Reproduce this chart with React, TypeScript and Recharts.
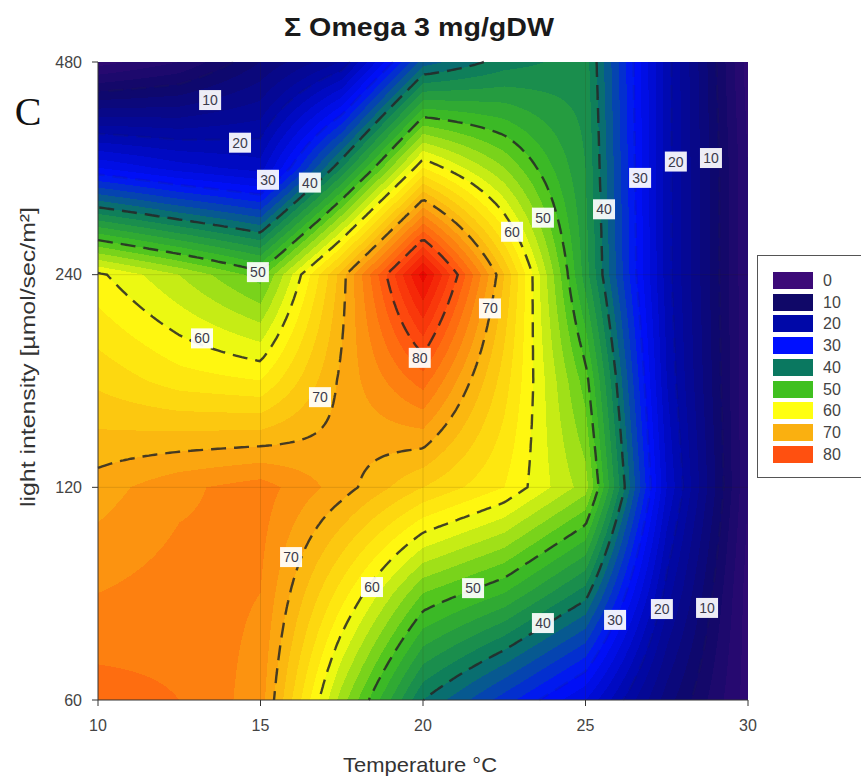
import { useMemo } from 'react';
import { ScatterChart, Scatter, XAxis, YAxis, ReferenceArea, ReferenceLine } from 'recharts';

document.body.style.margin = '0';

const FONT = '"Liberation Sans", Arial, Helvetica, sans-serif';

// measurement grid: temperature (°C) x light intensity (µmol/sec/m²)
const temperatures = [10, 12.5, 15, 17.5, 20, 22.5, 25, 27.5, 30];
const lightLevels = [60, 85, 120, 170, 240, 340, 480];

// Σ omega-3 content (mg/gDW), one row per light level, one value per temperature
const omega60 = [77, 76, 73, 55, 40, 33, 26, 13, 3];
const omega85 = [74, 75, 74, 63, 52, 48, 41, 19, 3];
const omega120 = [71, 73.5, 75, 71, 66, 62, 55, 24, 4];
const omega170 = [65.5, 63, 62, 70.5, 77, 65, 51, 22, 4];
const omega240 = [60.5, 56, 51, 69, 89, 68, 45, 21, 4];
const omega340 = [28, 25, 23, 42, 62, 54, 44, 21, 4];
const omega480 = [3, 6, 12, 18, 37, 41, 43, 21, 3];
const omegaRows = [omega60, omega85, omega120, omega170, omega240, omega340, omega480];

const contourLevels = [10, 20, 30, 40, 50, 60, 70, 80];
const legendLevels = [0, 10, 20, 30, 40, 50, 60, 70, 80];
const legendColors = ['#3c0a78', '#100868', '#0008a8', '#0010ff', '#0a7860', '#40c020', '#ffff10', '#fab010', '#ff5010'];
const peakLevel = 90;
const peakColor = '#eb0000';

const tempTicks = [10, 15, 20, 25, 30];
const lightTicks = [60, 120, 240, 480];

// inline contour labels
const labelTemp = [13.45, 14.37, 15.23, 16.52, 14.92, 13.2, 16.83, 19.9, 22.06, 22.74, 23.69, 25.57, 26.68, 27.78, 28.86, 15.94, 18.43, 21.54, 23.69, 25.91, 27.35, 28.74];
const labelLight = [424, 369, 327, 324, 242, 195, 161, 183, 215, 276, 289, 297, 329, 347, 351, 95.6, 86.7, 86.4, 77.1, 77.9, 80.7, 81];
const labelLevel = [10, 20, 30, 40, 50, 60, 70, 80, 70, 60, 50, 40, 30, 20, 10, 70, 60, 50, 40, 30, 20, 10];

const contourTags = labelLevel.map((level, k) => ({ temp: labelTemp[k], light: labelLight[k], level }));

const tMin = temperatures[0];
const tMax = temperatures[temperatures.length - 1];
const lMin = lightLevels[0];
const lMax = lightLevels[lightLevels.length - 1];
const logLights = lightLevels.map(Math.log);

const clamp01 = (v: number) => Math.min(1, Math.max(0, v));

// bilinear in (temperature, log light) between the measured grid nodes
function omegaAt(t: number, logL: number) {
  let i = 0;
  while (i < temperatures.length - 2 && t > temperatures[i + 1]) i++;
  let j = 0;
  while (j < logLights.length - 2 && logL > logLights[j + 1]) j++;
  const u = clamp01((t - temperatures[i]) / (temperatures[i + 1] - temperatures[i]));
  const v = clamp01((logL - logLights[j]) / (logLights[j + 1] - logLights[j]));
  const a = omegaRows[j][i];
  const b = omegaRows[j][i + 1];
  const c = omegaRows[j + 1][i];
  const d = omegaRows[j + 1][i + 1];
  return a * (1 - u) * (1 - v) + b * u * (1 - v) + c * (1 - u) * v + d * u * v;
}

const hexRgb = (hex: string) => [1, 3, 5].map((k) => parseInt(hex.slice(k, k + 2), 16));
const rampStops = [...legendLevels, peakLevel];
const rampRgb = [...legendColors, peakColor].map(hexRgb);

// stepped colour ramp, 2 units per band
function rampColor(value: number) {
  const q = Math.min(peakLevel - 0.01, Math.max(0, Math.floor(value / 2) * 2 + 1));
  let k = 0;
  while (k < rampStops.length - 2 && q >= rampStops[k + 1]) k++;
  const f = (q - rampStops[k]) / (rampStops[k + 1] - rampStops[k]);
  return rampRgb[k].map((c, n) => Math.round(c + (rampRgb[k + 1][n] - c) * f));
}

function paintField(width: number, height: number) {
  const w = Math.max(1, Math.round(width));
  const h = Math.max(1, Math.round(height));
  const canvas = document.createElement('canvas');
  canvas.width = w;
  canvas.height = h;
  const ctx = canvas.getContext('2d');
  if (!ctx) return '';
  const img = ctx.createImageData(w, h);
  const lo = Math.log(lMin);
  const span = Math.log(lMax) - lo;
  for (let r = 0; r < h; r++) {
    const logL = lo + span * (1 - (r + 0.5) / h);
    for (let c = 0; c < w; c++) {
      const t = tMin + ((tMax - tMin) * (c + 0.5)) / w;
      const [R, G, B] = rampColor(omegaAt(t, logL));
      const k = (r * w + c) * 4;
      img.data[k] = R;
      img.data[k + 1] = G;
      img.data[k + 2] = B;
      img.data[k + 3] = 255;
    }
  }
  ctx.putImageData(img, 0, 0);
  return canvas.toDataURL();
}

// marching squares on a fine sampling of the field, chained into polylines
function traceLevel(grid: number[][], xs: number[], ys: number[], level: number) {
  const pts = new Map<string, [number, number]>();
  const adj = new Map<string, string[]>();
  const link = (a: string, b: string) => {
    if (!adj.has(a)) adj.set(a, []);
    if (!adj.has(b)) adj.set(b, []);
    adj.get(a)!.push(b);
    adj.get(b)!.push(a);
  };
  const hKey = (j: number, i: number) => {
    const key = `h${j}_${i}`;
    if (!pts.has(key)) {
      const a = grid[j][i];
      const b = grid[j][i + 1];
      const f = (level - a) / (b - a);
      pts.set(key, [xs[i] + f * (xs[i + 1] - xs[i]), ys[j]]);
    }
    return key;
  };
  const vKey = (j: number, i: number) => {
    const key = `v${j}_${i}`;
    if (!pts.has(key)) {
      const a = grid[j][i];
      const b = grid[j + 1][i];
      const f = (level - a) / (b - a);
      pts.set(key, [xs[i], ys[j] + f * (ys[j + 1] - ys[j])]);
    }
    return key;
  };

  for (let j = 0; j < ys.length - 1; j++) {
    for (let i = 0; i < xs.length - 1; i++) {
      const a = grid[j][i];
      const b = grid[j][i + 1];
      const c = grid[j + 1][i + 1];
      const d = grid[j + 1][i];
      const idx = (a >= level ? 8 : 0) | (b >= level ? 4 : 0) | (c >= level ? 2 : 0) | (d >= level ? 1 : 0);
      if (idx === 0 || idx === 15) continue;
      const top = () => hKey(j, i);
      const bottom = () => hKey(j + 1, i);
      const left = () => vKey(j, i);
      const right = () => vKey(j, i + 1);
      const mid = (a + b + c + d) / 4 >= level;
      switch (idx) {
        case 1:
        case 14:
          link(left(), bottom());
          break;
        case 2:
        case 13:
          link(bottom(), right());
          break;
        case 3:
        case 12:
          link(left(), right());
          break;
        case 4:
        case 11:
          link(top(), right());
          break;
        case 6:
        case 9:
          link(top(), bottom());
          break;
        case 7:
        case 8:
          link(left(), top());
          break;
        case 5:
          if (mid) {
            link(left(), top());
            link(bottom(), right());
          } else {
            link(top(), right());
            link(left(), bottom());
          }
          break;
        case 10:
          if (mid) {
            link(top(), right());
            link(left(), bottom());
          } else {
            link(left(), top());
            link(bottom(), right());
          }
          break;
      }
    }
  }

  const used = new Set<string>();
  const edgeId = (p: string, q: string) => (p < q ? `${p}|${q}` : `${q}|${p}`);
  const walk = (start: string) => {
    const chain = [start];
    let cur = start;
    for (;;) {
      const next = (adj.get(cur) || []).find((n) => !used.has(edgeId(cur, n)));
      if (!next) break;
      used.add(edgeId(cur, next));
      chain.push(next);
      cur = next;
    }
    return chain;
  };
  const chains: string[][] = [];
  const keys = [...adj.keys()];
  keys.filter((k) => adj.get(k)!.length === 1).forEach((k) => {
    const chain = walk(k);
    if (chain.length > 1) chains.push(chain);
  });
  keys.forEach((k) => {
    const chain = walk(k);
    if (chain.length > 1) chains.push(chain);
  });
  return chains.map((chain) => {
    const d = chain
      .map((key, n) => {
        const [px, py] = pts.get(key)!;
        return `${n === 0 ? 'M' : 'L'}${px.toFixed(1)},${py.toFixed(1)}`;
      })
      .join('');
    return chain[0] === chain[chain.length - 1] ? `${d}Z` : d;
  });
}

function traceContours(x: number, y: number, width: number, height: number) {
  if (!(width > 0 && height > 0)) return [];
  const nx = Math.round(width / 3) + 1;
  const ny = Math.round(height / 3) + 1;
  const lo = Math.log(lMin);
  const span = Math.log(lMax) - lo;
  const xs = Array.from({ length: nx }, (_, i) => x + (width * i) / (nx - 1));
  const ys = Array.from({ length: ny }, (_, j) => y + (height * j) / (ny - 1));
  const grid = ys.map((_, j) => {
    const logL = lo + span * (1 - j / (ny - 1));
    return xs.map((_, i) => omegaAt(tMin + ((tMax - tMin) * i) / (nx - 1), logL));
  });
  return contourLevels.flatMap((level) => traceLevel(grid, xs, ys, level).map((d) => ({ level, d })));
}

function OmegaField(props: any) {
  const { x, y, width, height } = props;
  const image = useMemo(() => (width > 0 && height > 0 ? paintField(width, height) : ''), [width, height]);
  const paths = useMemo(() => traceContours(x, y, width, height), [x, y, width, height]);
  if (!image) return null;
  return (
    <g>
      <image href={image} x={x} y={y} width={width} height={height} preserveAspectRatio="none" />
      {paths.map(({ level, d }, k) => (
        <path
          key={k}
          d={d}
          fill="none"
          stroke="#262626"
          // the low isolines sit on dark blue and barely show
          strokeOpacity={level < 40 ? 0.12 : 0.85}
          strokeWidth={2.4}
          strokeDasharray="15 8"
        />
      ))}
    </g>
  );
}

function ContourTag(props: any) {
  const { cx, cy, payload } = props;
  if (cx == null || cy == null) return null;
  return (
    <g>
      <rect x={cx - 11} y={cy - 10} width={22} height={20} fill="#fff" fillOpacity={0.93} />
      <text x={cx} y={cy + 5} textAnchor="middle" fontSize={14} fontFamily={FONT} fill="#3b3b4b">
        {payload.level}
      </text>
    </g>
  );
}

function Legend() {
  return (
    <div
      style={{
        position: 'absolute',
        left: 757,
        top: 255,
        width: 120,
        height: 221,
        border: '1px solid #555',
        background: '#fff',
      }}
    >
      {legendLevels.map((level, k) => (
        <div key={level}>
          <div
            style={{
              position: 'absolute',
              left: 15,
              top: 16 + k * 21.7,
              width: 40,
              height: 17,
              background: legendColors[k],
            }}
          />
          <div
            style={{
              position: 'absolute',
              left: 65,
              top: 15 + k * 21.7,
              fontSize: 16,
              lineHeight: '19px',
              color: '#444',
              fontFamily: FONT,
            }}
          >
            {level}
          </div>
        </div>
      ))}
    </div>
  );
}

export default function App() {
  const tick = { fill: '#444', fontSize: 16, fontFamily: FONT };
  return (
    <div style={{ position: 'relative', width: 861, height: 782, overflow: 'hidden', background: '#fff' }}>
      <ScatterChart width={861} height={782} margin={{ top: 62, right: 113, bottom: 42, left: 38 }}>
        <XAxis
          type="number"
          dataKey="temp"
          domain={[tMin, tMax]}
          ticks={tempTicks}
          allowDataOverflow
          height={40}
          tickSize={6}
          tickMargin={14}
          stroke="#333"
          tick={tick}
        />
        <YAxis
          type="number"
          dataKey="light"
          scale="log"
          domain={[lMin, lMax]}
          ticks={lightTicks}
          allowDataOverflow
          width={60}
          tickSize={6}
          tickMargin={10}
          stroke="#333"
          tick={tick}
        />
        <ReferenceArea
          x1={tMin}
          x2={tMax}
          y1={lMin}
          y2={lMax}
          fillOpacity={1}
          shape={(p: any) => <OmegaField {...p} />}
        />
        {tempTicks.slice(1, -1).map((t) => (
          <ReferenceLine key={`t${t}`} x={t} stroke="rgba(60,40,0,0.14)" />
        ))}
        {lightTicks.slice(1, -1).map((l) => (
          <ReferenceLine key={`l${l}`} y={l} stroke="rgba(60,40,0,0.14)" />
        ))}
        <Scatter data={contourTags} isAnimationActive={false} shape={(p: any) => <ContourTag {...p} />} />
      </ScatterChart>
      <svg
        width={861}
        height={782}
        style={{ position: 'absolute', left: 0, top: 0, pointerEvents: 'none' }}
      >
        <text
          x={419}
          y={36}
          textAnchor="middle"
          fontSize={25}
          fontWeight="bold"
          fontFamily={FONT}
          textLength={270}
          lengthAdjust="spacingAndGlyphs"
          fill="#1a1a1a"
        >
          Σ Omega 3 mg/gDW
        </text>
        <text x={28} y={125} textAnchor="middle" fontSize={40} fontFamily='"Liberation Serif", "Times New Roman", serif' fill="#111">
          C
        </text>
        <text
          x={420}
          y={772}
          textAnchor="middle"
          fontSize={21}
          fontFamily={FONT}
          textLength={154}
          lengthAdjust="spacingAndGlyphs"
          fill="#333"
        >
          Temperature °C
        </text>
        <text
          transform="translate(35, 357) rotate(-90)"
          textAnchor="middle"
          fontSize={21}
          fontFamily={FONT}
          textLength={300}
          lengthAdjust="spacingAndGlyphs"
          fill="#333"
        >
          light intensity [µmol/sec/m²]
        </text>
      </svg>
      <Legend />
    </div>
  );
}
